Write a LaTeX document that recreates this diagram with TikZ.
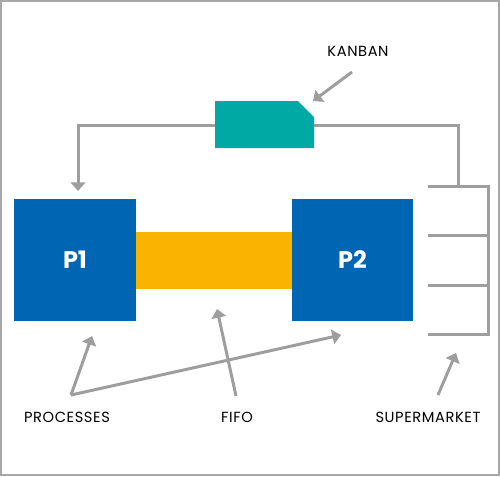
\documentclass[tikz,border=0pt]{standalone}
\usepackage{fontspec}
\setmainfont{Poppins}
\usetikzlibrary{arrows.meta}
\definecolor{pblue}{HTML}{0066B3}
\definecolor{pteal}{HTML}{00A9A4}
\definecolor{pyellow}{HTML}{F8B400}
\definecolor{pgray}{HTML}{9E9E9E}
\definecolor{pframe}{HTML}{A8A8A8}
\begin{document}
\begin{tikzpicture}[x=0.75pt,y=-0.75pt,
  procbox/.style={fill=pblue,draw=none,inner sep=0pt,minimum width=91.5pt,minimum height=91.5pt,text=white,font=\bfseries\fontsize{18}{18}\selectfont},
  fifobox/.style={fill=pyellow,draw=none,inner sep=0pt,minimum width=117pt,minimum height=42.75pt},
  lbl/.style={inner sep=0pt,anchor=base,font=\fontsize{11}{11}\selectfont\addfontfeature{LetterSpace=4},text=black},
  gline/.style={draw=pgray,line width=2.25pt,line join=miter},
  garrow/.style={gline,-{Triangle[width=11pt,length=6.5pt]}}
]
\useasboundingbox (0,0) rectangle (500,476);
\draw[pframe,line width=1.5pt] (1,1) rectangle (499,475);

% feedback line behind kanban
\coordinate (smtop) at (458,186.7);
\coordinate (p1in) at (78,191);
\draw[garrow] (smtop) -- (458,125) -- (78,125) -- (p1in);

% kanban card
\fill[pteal] (215,101) -- (298,101) -- (314,117) -- (314,148) -- (215,148) -- cycle;
\coordinate (kanbantip) at (313,101);

% processes and fifo
\node[fifobox] (fifo) at (214,260.5) {};
\node[procbox] (p1) at (75,260) {P1};
\node[procbox,minimum width=90.75pt] (p2) at (352.5,260) {P2};

% supermarket
\coordinate (sm1) at (428,186.7);
\coordinate (sm4) at (428,334);
\draw[gline] (sm1) -- (488,186.7) -- (488,334) -- (sm4);
\draw[gline] (428,235.7) -- (488,235.7);
\draw[gline] (428,285) -- (488,285);

% labels
\node[lbl] (lkanban) at (358,56) {KANBAN};
\node[lbl] (lproc) at (67,422) {PROCESSES};
\node[lbl] (lfifo) at (237,422) {FIFO};
\node[lbl] (lsm) at (428,422) {SUPERMARKET};

% label arrows
\coordinate (ka) at (352,72);
\draw[garrow] (ka) -- (kanbantip);
\coordinate (pa) at (71,395);
\coordinate (p1tip) at (92,336);
\coordinate (p2tip) at (341,335);
\draw[garrow] (pa) -- (p1tip);
\draw[garrow] (pa) -- (p2tip);
\coordinate (fa) at (236,396);
\coordinate (fifotip) at (217,309);
\draw[garrow] (fa) -- (fifotip);
\coordinate (sa) at (438,395);
\coordinate (smtip) at (456,353);
\draw[garrow] (sa) -- (smtip);
\end{tikzpicture}
\end{document}
